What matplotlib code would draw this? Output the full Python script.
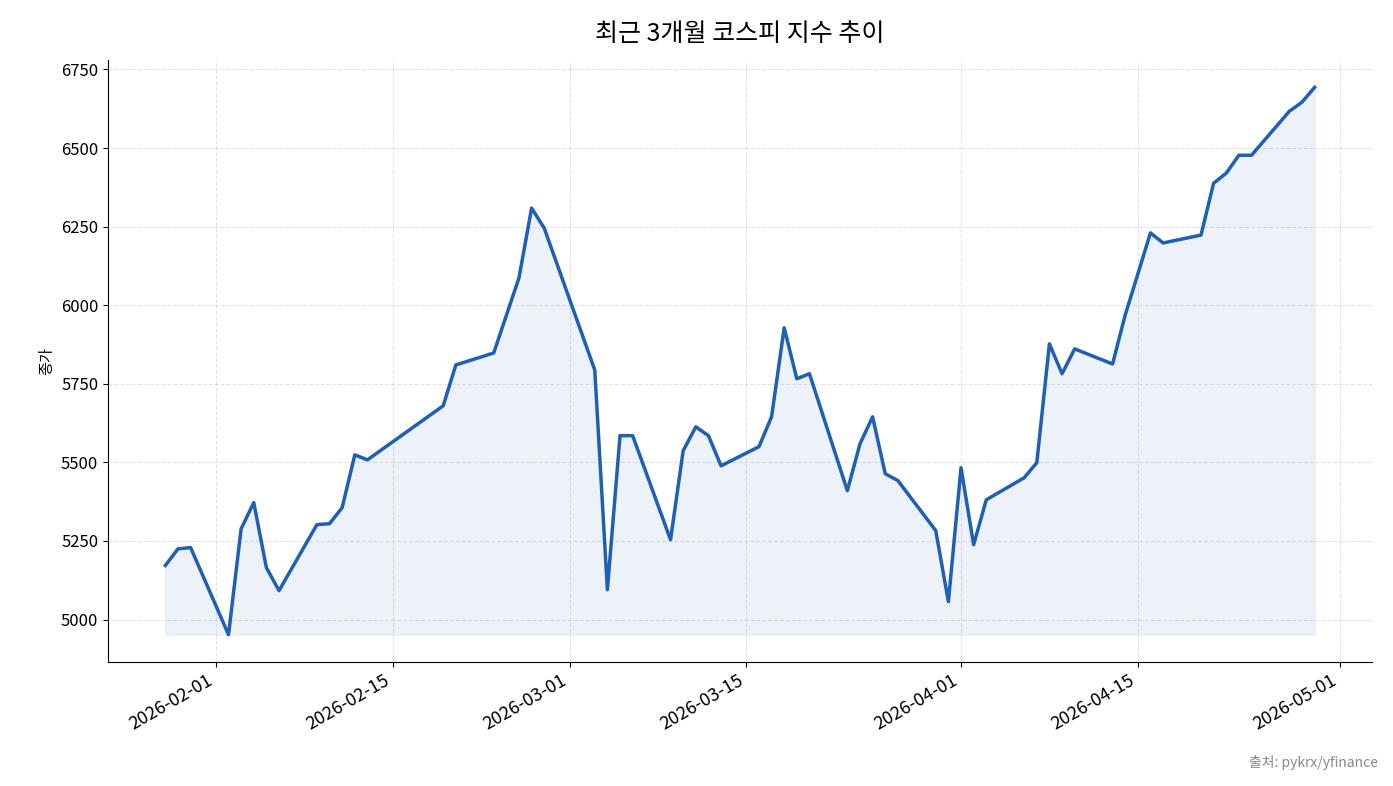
import matplotlib
matplotlib.use("Agg")
import matplotlib.pyplot as plt
import matplotlib.dates as mdates
import pandas as pd

plt.rcParams['font.family'] = ['Noto Sans CJK KR', 'DejaVu Sans']

dates = ["2026-01-28","2026-01-29","2026-01-30","2026-02-02","2026-02-03","2026-02-04","2026-02-05","2026-02-06",
 "2026-02-09","2026-02-10","2026-02-11","2026-02-12","2026-02-13","2026-02-19","2026-02-20","2026-02-23",
 "2026-02-25","2026-02-26","2026-02-27","2026-03-03","2026-03-04","2026-03-05","2026-03-06","2026-03-09",
 "2026-03-10","2026-03-11","2026-03-12","2026-03-13","2026-03-16","2026-03-17","2026-03-18","2026-03-19",
 "2026-03-20","2026-03-23","2026-03-24","2026-03-25","2026-03-26","2026-03-27","2026-03-30","2026-03-31",
 "2026-04-01","2026-04-02","2026-04-03","2026-04-06","2026-04-07","2026-04-08","2026-04-09","2026-04-10",
 "2026-04-13","2026-04-14","2026-04-15","2026-04-16","2026-04-17","2026-04-20","2026-04-21","2026-04-22",
 "2026-04-23","2026-04-24","2026-04-27","2026-04-28","2026-04-29"]
close = [5172,5225,5229,4952,5289,5372,5165,5092,
 5302,5305,5356,5524,5508,5680,5810,5848,
 6087,6309,6245,5794,5095,5585,5585,5254,
 5537,5613,5585,5489,5550,5645,5928,5766,
 5782,5410,5559,5645,5464,5442,5283,5057,
 5483,5238,5381,5451,5499,5877,5782,5861,
 5813,5969,6099,6230,6198,6223,6388,6420,
 6477,6477,6617,6646,6693]

x = pd.to_datetime(dates)
fig = plt.figure(figsize=(13.93, 7.86), dpi=100)
ax = fig.add_axes([108/1393, 1-662/786, (1372-108)/1393, (662-60)/786])
color = '#1f5fb4'
ax.plot(x, close, color=color, lw=2.5)
ax.fill_between(x, close, min(close), color=color, alpha=0.08)
ax.set_ylim(4865, 6780)
ax.set_xlim(pd.Timestamp("2026-01-23 11:00"), pd.Timestamp("2026-05-03 13:00"))
ax.xaxis.set_major_locator(mdates.DayLocator(bymonthday=[1, 15]))
ax.xaxis.set_major_formatter(mdates.DateFormatter('%Y-%m-%d'))
ax.set_yticks([5000,5250,5500,5750,6000,6250,6500,6750])
ax.grid(True, linestyle='--', alpha=0.35)
for s in ['top','right']:
    ax.spines[s].set_visible(False)
plt.setp(ax.get_xticklabels(), rotation=30, ha='right', fontsize=13)
plt.setp(ax.get_yticklabels(), fontsize=12)
ax.set_ylabel('종가', fontsize=11)
ax.set_title('최근 3개월 코스피 지수 추이', fontsize=18, pad=14)
fig.text(1378/1393, 1-763/786, '출처: pykrx/yfinance', ha='right', va='center', fontsize=10, color='#888888')
fig.savefig('out.png', dpi=100)
